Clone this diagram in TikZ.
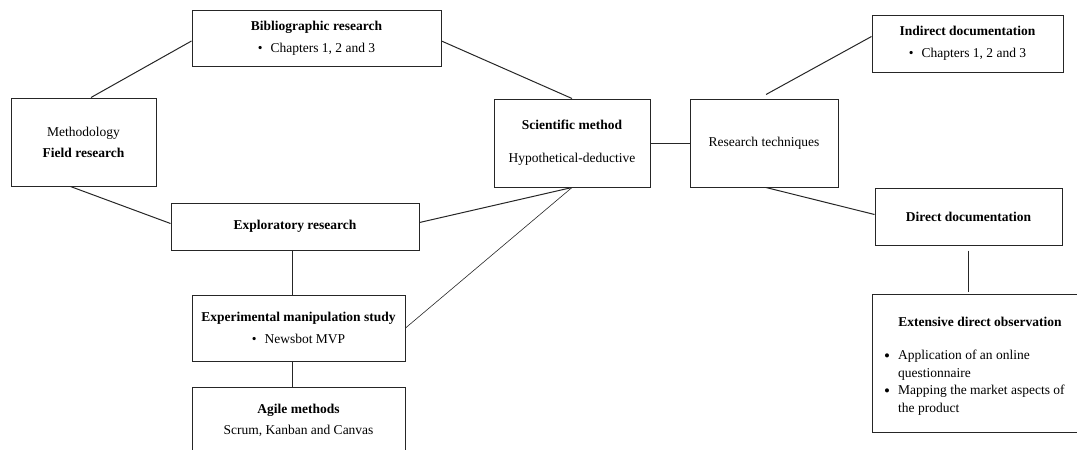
\documentclass[tikz,border=0pt]{standalone}
\usepackage{fontspec}
\setmainfont{Liberation Serif}
\begin{document}
\begin{tikzpicture}[x=1pt,y=-1pt,
  box/.style={draw=black!85, line width=1pt, align=center, inner sep=0pt,
    font=\fontsize{13.5}{22}\selectfont},
  conn/.style={line width=1pt, draw=black!85},
  thinconn/.style={line width=0.6pt, draw=black!85},
  txt/.style={inner sep=0pt, font=\fontsize{13.5}{17.5}\selectfont}]
\useasboundingbox (0,0) rectangle (1077,450);
\clip (0,0) rectangle (1077,450);
\node[box, minimum width=249pt, minimum height=56pt] (bib) at (316.5,38)
  {\textbf{Bibliographic research}\\\textbullet\hspace{8pt}Chapters 1, 2 and 3};
\node[box, minimum width=145pt, minimum height=88pt, font=\fontsize{13.5}{21}\selectfont] (meth) at (83.5,142)
  {Methodology\\\textbf{Field research}};
\node[box, minimum width=156pt, minimum height=88pt] (sci) at (572,143)
  {\textbf{Scientific method}\\[11pt]Hypothetical-deductive};
\node[box, minimum width=148pt, minimum height=88pt] (tech) at (764,143)
  {Research techniques};
\node[box, minimum width=191pt, minimum height=57pt] (ind) at (967.5,43.5)
  {\textbf{Indirect documentation}\\\textbullet\hspace{8pt}Chapters 1, 2 and 3};
\node[box, minimum width=187pt, minimum height=57pt] (dir) at (968.5,216.5)
  {\textbf{Direct documentation}};
\node[box, minimum width=248pt, minimum height=47pt] (expl) at (295,226.5)
  {\textbf{Exploratory research}};
\node[box, minimum width=213pt, minimum height=66pt] (exper) at (298.5,328)
  {\textbf{Experimental manipulation study}\\\textbullet\hspace{8pt}Newsbot MVP};
\node[box, minimum width=213pt, minimum height=67pt, font=\fontsize{13.5}{21}\selectfont] (agile) at (298.5,420.5)
  {\textbf{Agile methods}\\Scrum, Kanban and Canvas};
\node[box, minimum width=220pt, minimum height=138pt] (ext) at (982,363) {};
\node[txt] (extt) at (980,322) {\textbf{Extensive direct observation}};
\node[txt, align=left, anchor=north west] (extl) at (884,350)
  {\makebox[14pt][l]{\raisebox{-1.6pt}{\fontsize{17}{17}\selectfont\textbullet}}Application of an online\\
   \hspace*{14pt}questionnaire\\
   \makebox[14pt][l]{\raisebox{-1.6pt}{\fontsize{17}{17}\selectfont\textbullet}}Mapping the market aspects of\\
   \hspace*{14pt}the product};
% connectors
\draw[conn] ([xshift=7.5pt]meth.north) -- ([yshift=-3pt]bib.west);
\draw[conn] ([yshift=-3pt]bib.east) -- (sci.north);
\draw[conn] ([xshift=-13pt]meth.south) -- ([yshift=3pt]expl.west);
\draw[conn] ([yshift=4pt]expl.east) -- (sci.south);
\draw[thinconn] (exper.east) -- (sci.south);
\coordinate (e1) at ([xshift=-3pt]expl.south);
\draw[conn] (e1) -- (e1 |- exper.north);
\coordinate (e2) at ([xshift=-6pt]exper.south);
\draw[conn] (e2) -- (e2 |- agile.north);
\draw[conn] (sci.east) -- (tech.west);
\draw[conn] ([xshift=2pt,yshift=4pt]tech.north) -- ([yshift=7pt]ind.west);
\draw[conn] ([xshift=2pt]tech.south) -- ([yshift=2pt]dir.west);
\coordinate (d1) at ([yshift=-5pt]dir.south);
\draw[conn] (d1) -- ([yshift=2pt]d1 |- ext.north);
\end{tikzpicture}
\end{document}
